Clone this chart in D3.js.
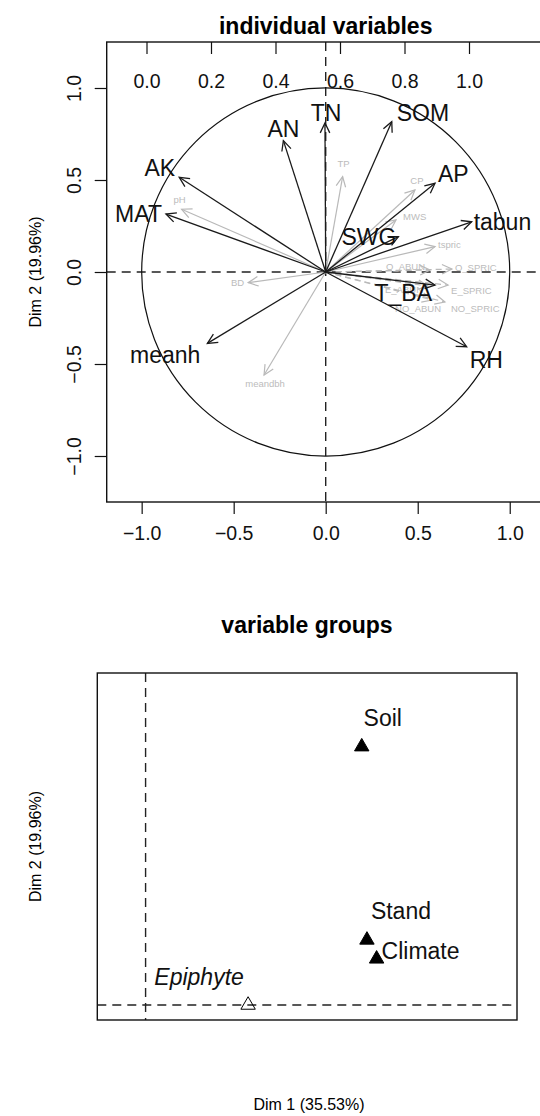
<!DOCTYPE html>
<html>
<head>
<meta charset="utf-8">
<script src="https://cdn.jsdelivr.net/npm/d3@7"></script>
<style>
body { margin: 0; background: #fff; }
text { font-family: "Liberation Sans", Arial, sans-serif; }
</style>
</head>
<body>
<div id="chart"></div>
<script>
//Data
var activeVars = ["AK", "MAT", "AN", "TN", "SOM", "AP", "tabun", "SWG", "T_BA", "RH", "meanh"];
var activeDim1 = [-0.796, -0.868, -0.230, -0.004, 0.359, 0.594, 0.793, 0.395, 0.594, 0.766, -0.643];
var activeDim2 = [0.515, 0.315, 0.714, 0.810, 0.817, 0.482, 0.273, 0.192, -0.071, -0.406, -0.388];

var greyVars = ["pH", "BD", "meandbh", "TP", "CP", "MWS", "tspric", "O_ABUN", "O_SPRIC", "E_ABUN", "E_SPRIC", "NO_ABUN", "NO_SPRIC"];
var greyDim1 = [-0.783, -0.421, -0.335, 0.092, 0.485, 0.382, 0.594, 0.567, 0.686, 0.556, 0.665, 0.578, 0.648];
var greyDim2 = [0.341, -0.058, -0.560, 0.518, 0.446, 0.283, 0.138, 0.011, 0.016, -0.076, -0.071, -0.152, -0.163];
var suppVars = ["O_ABUN", "O_SPRIC", "E_ABUN", "E_SPRIC", "NO_ABUN", "NO_SPRIC"];

var groupNames = ["Soil", "Stand", "Climate", "Epiphyte"];
var groupDim1 = [0.582, 0.596, 0.622, 0.276];
var groupDim2 = [0.778, 0.196, 0.139, 0.0];
var suppGroups = ["Epiphyte"];

var xTicks = [-1.0, -0.5, 0.0, 0.5, 1.0];
var yTicks = [-1.0, -0.5, 0.0, 0.5, 1.0];
var topTicks = [0.0, 0.2, 0.4, 0.6, 0.8, 1.0];

//Label placement: anchor, dx, dy (pixels from the arrow tip)
var labelPlace = {
    AK: ["end", -4, -9], MAT: ["end", -4, 0], AN: ["middle", 0, -12], TN: ["middle", 1, -10],
    SOM: ["start", 5, -9], AP: ["start", 3, -9], tabun: ["start", 2, 0], SWG: ["end", -2, 0],
    T_BA: ["end", -3, 8], RH: ["start", 3, 13], meanh: ["end", -7, 12],
    pH: ["middle", -2, -10], BD: ["end", -4, 0], meandbh: ["middle", 1, 8], TP: ["middle", 1, -13],
    CP: ["middle", 2, -9], MWS: ["start", 7, -3], tspric: ["start", 3, -2],
    O_ABUN: ["end", -5, -3], O_SPRIC: ["start", 3, -2], E_ABUN: ["end", -5, 4],
    E_SPRIC: ["start", 3, 5], NO_ABUN: ["middle", -14, 9], NO_SPRIC: ["start", 6, 7]
};
var groupLabelPlace = {
    Soil: ["middle", 21, -29], Stand: ["middle", 34, -29], Climate: ["start", 5, -8], Epiphyte: ["middle", -49, -28]
};

var svgWidth = 540;
var svgHeight = 1116;

var svg = d3.select("#chart")
    .append("svg")
    .attr("width", svgWidth)
    .attr("height", svgHeight);

var font = "Liberation Sans, Arial, sans-serif";

//---------- Top panel: individual variables ----------
var box1 = {left: 106.7, right: 544.7, top: 42, bottom: 502};

var xScale = d3.scaleLinear().domain([-1.19, 1.19]).range([box1.left, box1.right]);
var yScale = d3.scaleLinear().domain([-1.25, 1.25]).range([box1.bottom, box1.top]);
var topScale = d3.scaleLinear().domain([0, 1]).range([146.5, 469]);

svg.append("text")
    .attr("x", 325.7)
    .attr("y", 26)
    .attr("text-anchor", "middle")
    .attr("dominant-baseline", "central")
    .attr("font-weight", "bold")
    .attr("font-size", "23px")
    .text("individual variables");

//Dashed axes through the origin
svg.append("line")
    .attr("x1", box1.left).attr("x2", box1.right)
    .attr("y1", yScale(0)).attr("y2", yScale(0))
    .attr("stroke", "#222").attr("stroke-width", 1.4)
    .attr("stroke-dasharray", "9,6");
svg.append("line")
    .attr("x1", xScale(0)).attr("x2", xScale(0))
    .attr("y1", box1.top).attr("y2", box1.bottom)
    .attr("stroke", "#222").attr("stroke-width", 1.4)
    .attr("stroke-dasharray", "9,6");

//Unit circle
svg.append("circle")
    .attr("cx", xScale(0))
    .attr("cy", yScale(0))
    .attr("r", xScale(1) - xScale(0))
    .attr("fill", "none")
    .attr("stroke", "#111")
    .attr("stroke-width", 1.2);

//Arrow drawing helper
function drawArrows(names, d1, d2, colour, textColour, fontSize, width) {
    var data = names.map((n, i) => ({name: n, x: d1[i], y: d2[i]}));
    var g = svg.append("g");
    data.forEach(d => {
        var x0 = xScale(0), y0 = yScale(0);
        var x1 = xScale(d.x), y1 = yScale(d.y);
        var ang = Math.atan2(y1 - y0, x1 - x0);
        var dash = suppVars.indexOf(d.name) >= 0 ? "6,4" : null;
        g.append("line")
            .attr("x1", x0).attr("y1", y0)
            .attr("x2", x1).attr("y2", y1)
            .attr("stroke", colour)
            .attr("stroke-width", width)
            .attr("stroke-dasharray", dash);
        var headLen = 11, spread = Math.PI / 7;
        var p = [ang + Math.PI - spread, ang + Math.PI + spread].map(a =>
            [x1 + headLen * Math.cos(a), y1 + headLen * Math.sin(a)]);
        g.append("path")
            .attr("d", `M${p[0][0]},${p[0][1]}L${x1},${y1}L${p[1][0]},${p[1][1]}`)
            .attr("fill", "none")
            .attr("stroke", colour)
            .attr("stroke-width", width);
        var lp = labelPlace[d.name];
        g.append("text")
            .attr("x", x1 + lp[1])
            .attr("y", y1 + lp[2])
            .attr("text-anchor", lp[0])
            .attr("dominant-baseline", "central")
            .attr("font-size", fontSize)
            .attr("fill", textColour)
            .text(d.name);
    });
}

drawArrows(greyVars, greyDim1, greyDim2, "#b9b9b9", "#bcbcbc", "9.5px", 1.2);
drawArrows(activeVars, activeDim1, activeDim2, "#1a1a1a", "#111", "23px", 1.3);

//Box
svg.append("rect")
    .attr("x", box1.left).attr("y", box1.top)
    .attr("width", box1.right - box1.left)
    .attr("height", box1.bottom - box1.top)
    .attr("fill", "none")
    .attr("stroke", "#111")
    .attr("stroke-width", 1.4);

//Bottom axis
var bottomAxis = d3.axisBottom(xScale)
    .tickValues(xTicks)
    .tickFormat(d3.format(".1f"))
    .tickSize(12)
    .tickPadding(12);
var xAxis = svg.append("g")
    .attr("transform", `translate(0, ${box1.bottom})`)
    .call(bottomAxis);
xAxis.select(".domain").remove();

//Left axis with rotated labels
var leftAxis = d3.axisLeft(yScale)
    .tickValues(yTicks)
    .tickFormat(d3.format(".1f"))
    .tickSize(12);
var yAxis = svg.append("g")
    .attr("transform", `translate(${box1.left}, 0)`)
    .call(leftAxis);
yAxis.select(".domain").remove();
yAxis.selectAll("text")
    .attr("x", 0).attr("dx", 0).attr("dy", 0)
    .attr("text-anchor", "middle")
    .attr("dominant-baseline", "central")
    .attr("transform", "translate(-33, 0) rotate(-90)");

//Top axis with inward ticks
var topAxis = d3.axisBottom(topScale)
    .tickValues(topTicks)
    .tickFormat(d3.format(".1f"))
    .tickSize(12)
    .tickPadding(20);
var tAxis = svg.append("g")
    .attr("transform", `translate(0, ${box1.top})`)
    .call(topAxis);
tAxis.select(".domain").remove();

[xAxis, yAxis, tAxis].forEach(a => {
    a.selectAll("line").attr("stroke", "#111").attr("stroke-width", 1.2);
    a.selectAll("text").attr("font-size", "19.5px").attr("font-family", font).attr("fill", "#111");
});

svg.append("text")
    .attr("transform", `translate(35, ${yScale(0)}) rotate(-90)`)
    .attr("text-anchor", "middle")
    .attr("dominant-baseline", "central")
    .attr("font-size", "16px")
    .text("Dim 2 (19.96%)");

//---------- Bottom panel: variable groups ----------
var box2 = {left: 97.3, right: 517, top: 673, bottom: 1020};

var gxScale = d3.scaleLinear().domain([-0.13, 1.0]).range([box2.left, box2.right]);
var gyScale = d3.scaleLinear().domain([-0.045, 1.0]).range([box2.bottom, box2.top]);

svg.append("text")
    .attr("x", 307)
    .attr("y", 625)
    .attr("text-anchor", "middle")
    .attr("dominant-baseline", "central")
    .attr("font-weight", "bold")
    .attr("font-size", "23px")
    .text("variable groups");

svg.append("line")
    .attr("x1", box2.left).attr("x2", box2.right)
    .attr("y1", gyScale(0)).attr("y2", gyScale(0))
    .attr("stroke", "#222").attr("stroke-width", 1.4)
    .attr("stroke-dasharray", "9,6");
svg.append("line")
    .attr("x1", gxScale(0)).attr("x2", gxScale(0))
    .attr("y1", box2.top).attr("y2", box2.bottom)
    .attr("stroke", "#222").attr("stroke-width", 1.4)
    .attr("stroke-dasharray", "9,6");

svg.append("rect")
    .attr("x", box2.left).attr("y", box2.top)
    .attr("width", box2.right - box2.left)
    .attr("height", box2.bottom - box2.top)
    .attr("fill", "none")
    .attr("stroke", "#111")
    .attr("stroke-width", 1.4);

var groups = groupNames.map((n, i) => ({name: n, x: groupDim1[i], y: groupDim2[i]}));
var triangle = d3.symbol().type(d3.symbolTriangle).size(90);

svg.selectAll(".grp")
    .data(groups)
    .enter()
    .append("path")
    .attr("class", "grp")
    .attr("d", triangle)
    .attr("transform", d => `translate(${gxScale(d.x)}, ${gyScale(d.y)})`)
    .attr("fill", d => suppGroups.indexOf(d.name) >= 0 ? "none" : "#000")
    .attr("stroke", "#000")
    .attr("stroke-width", 1);

svg.selectAll(".grpLabel")
    .data(groups)
    .enter()
    .append("text")
    .attr("class", "grpLabel")
    .attr("x", d => gxScale(d.x) + groupLabelPlace[d.name][1])
    .attr("y", d => gyScale(d.y) + groupLabelPlace[d.name][2])
    .attr("text-anchor", d => groupLabelPlace[d.name][0])
    .attr("dominant-baseline", "central")
    .attr("font-size", "23px")
    .attr("font-style", d => suppGroups.indexOf(d.name) >= 0 ? "italic" : "normal")
    .attr("fill", "#111")
    .text(d => d.name);

svg.append("text")
    .attr("transform", `translate(35, ${(box2.top + box2.bottom) / 2}) rotate(-90)`)
    .attr("text-anchor", "middle")
    .attr("dominant-baseline", "central")
    .attr("font-size", "16px")
    .text("Dim 2 (19.96%)");

svg.append("text")
    .attr("x", 309)
    .attr("y", 1104)
    .attr("text-anchor", "middle")
    .attr("dominant-baseline", "central")
    .attr("font-size", "16px")
    .text("Dim 1 (35.53%)");
</script>
</body>
</html>
